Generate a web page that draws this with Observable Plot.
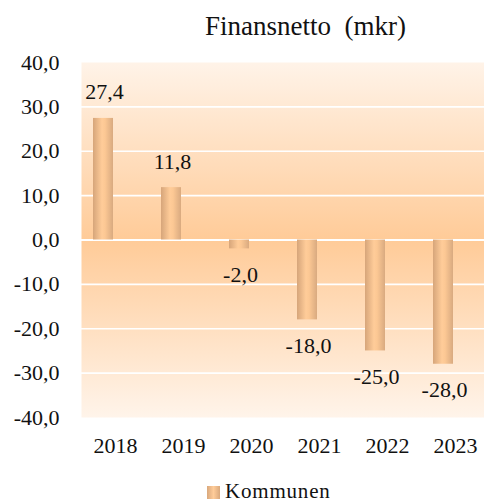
<!DOCTYPE html>
<html>
<head>
<meta charset="utf-8">
<script src="https://cdn.jsdelivr.net/npm/d3@7"></script>
<script src="https://cdn.jsdelivr.net/npm/@observablehq/plot@0.6"></script>
<style>
  body { margin: 0; background: #fff; }
  #wrap { position: relative; width: 484px; height: 504px; overflow: hidden; font-family: "Liberation Serif", "Times New Roman", serif; color: #111; }
  #title { position: absolute; left: 0; width: 611px; top: 10px; text-align: center; font-size: 27px; line-height: 32px; white-space: pre; }
  #legend { position: absolute; left: 207px; top: 481px; font-size: 21px; line-height: 20px; letter-spacing: 0.8px; white-space: nowrap; }
  #legend .sw { display: inline-block; width: 13px; height: 13px; margin-right: 5px; vertical-align: -1px;
    background: linear-gradient(90deg, #d9a87c, #ffcc99 50%, #d9a87c); }
  #chart { position: absolute; left: 0; top: 0; }
</style>
</head>
<body>
<div id="wrap">
  <div id="chart"></div>
  <div id="title">Finansnetto  (mkr)</div>
  <div id="legend"><span class="sw"></span>Kommunen</div>
</div>
<script>
const years = ["2018", "2019", "2020", "2021", "2022", "2023"];
const values = [27.4, 11.8, -2.0, -18.0, -25.0, -28.0];
const yTicks = [-40, -30, -20, -10, 0, 10, 20, 30, 40];
const gridValues = [-30, -20, -10, 10, 20, 30];

const data = years.map((year, i) => ({year, value: values[i]}));
const fmt = v => v.toFixed(1).replace(".", ",");

const chart = Plot.plot({
  width: 484,
  height: 470,
  marginTop: 62,
  marginBottom: 53,
  marginLeft: 81,
  marginRight: 0,
  style: {fontFamily: "'Liberation Serif', 'Times New Roman', serif", fontSize: "22px", color: "#111", background: "transparent"},
  x: {domain: years, range: [81, 489], padding: 0, label: null},
  y: {domain: [-40, 40], range: [417, 62], label: null},
  marks: [
    Plot.frame({fill: "url(#bgGrad)", stroke: "none"}),
    Plot.ruleY(gridValues, {stroke: "white", strokeWidth: 1.6}),
    Plot.ruleY([0], {stroke: "white", strokeWidth: 2.2}),
    Plot.barY(data, {x: "year", y: "value", fill: "url(#barGrad)", insetLeft: 12, insetRight: 36}),
    Plot.text(data.filter(d => d.value >= 0), {x: "year", y: "value", text: d => fmt(d.value), dx: -11, dy: -26, fontSize: 22, fill: "#111"}),
    Plot.text(data.filter(d => d.value < 0), {x: "year", y: "value", text: d => fmt(d.value), dx: -11, dy: 26, fontSize: 22, fill: "#111"}),
    Plot.axisY({ticks: yTicks, tickFormat: fmt, tickSize: 0, tickPadding: 22, label: null, fontSize: 22}),
    Plot.axisX({tickSize: 0, tickPadding: 20, label: null, fontSize: 22})
  ]
});

const ns = "http://www.w3.org/2000/svg";
const defs = document.createElementNS(ns, "defs");
defs.innerHTML = `
  <linearGradient id="bgGrad" x1="0" y1="0" x2="0" y2="1">
    <stop offset="0" stop-color="#fff3e8"/>
    <stop offset="0.5" stop-color="#ffcb98"/>
    <stop offset="1" stop-color="#fff4ea"/>
  </linearGradient>
  <linearGradient id="barGrad" x1="0" y1="0" x2="1" y2="0">
    <stop offset="0" stop-color="#d6a57a"/>
    <stop offset="0.45" stop-color="#ffcc99"/>
    <stop offset="0.6" stop-color="#fcc894"/>
    <stop offset="1" stop-color="#d9aa80"/>
  </linearGradient>`;
chart.insertBefore(defs, chart.firstChild);
document.getElementById("chart").appendChild(chart);
</script>
</body>
</html>
